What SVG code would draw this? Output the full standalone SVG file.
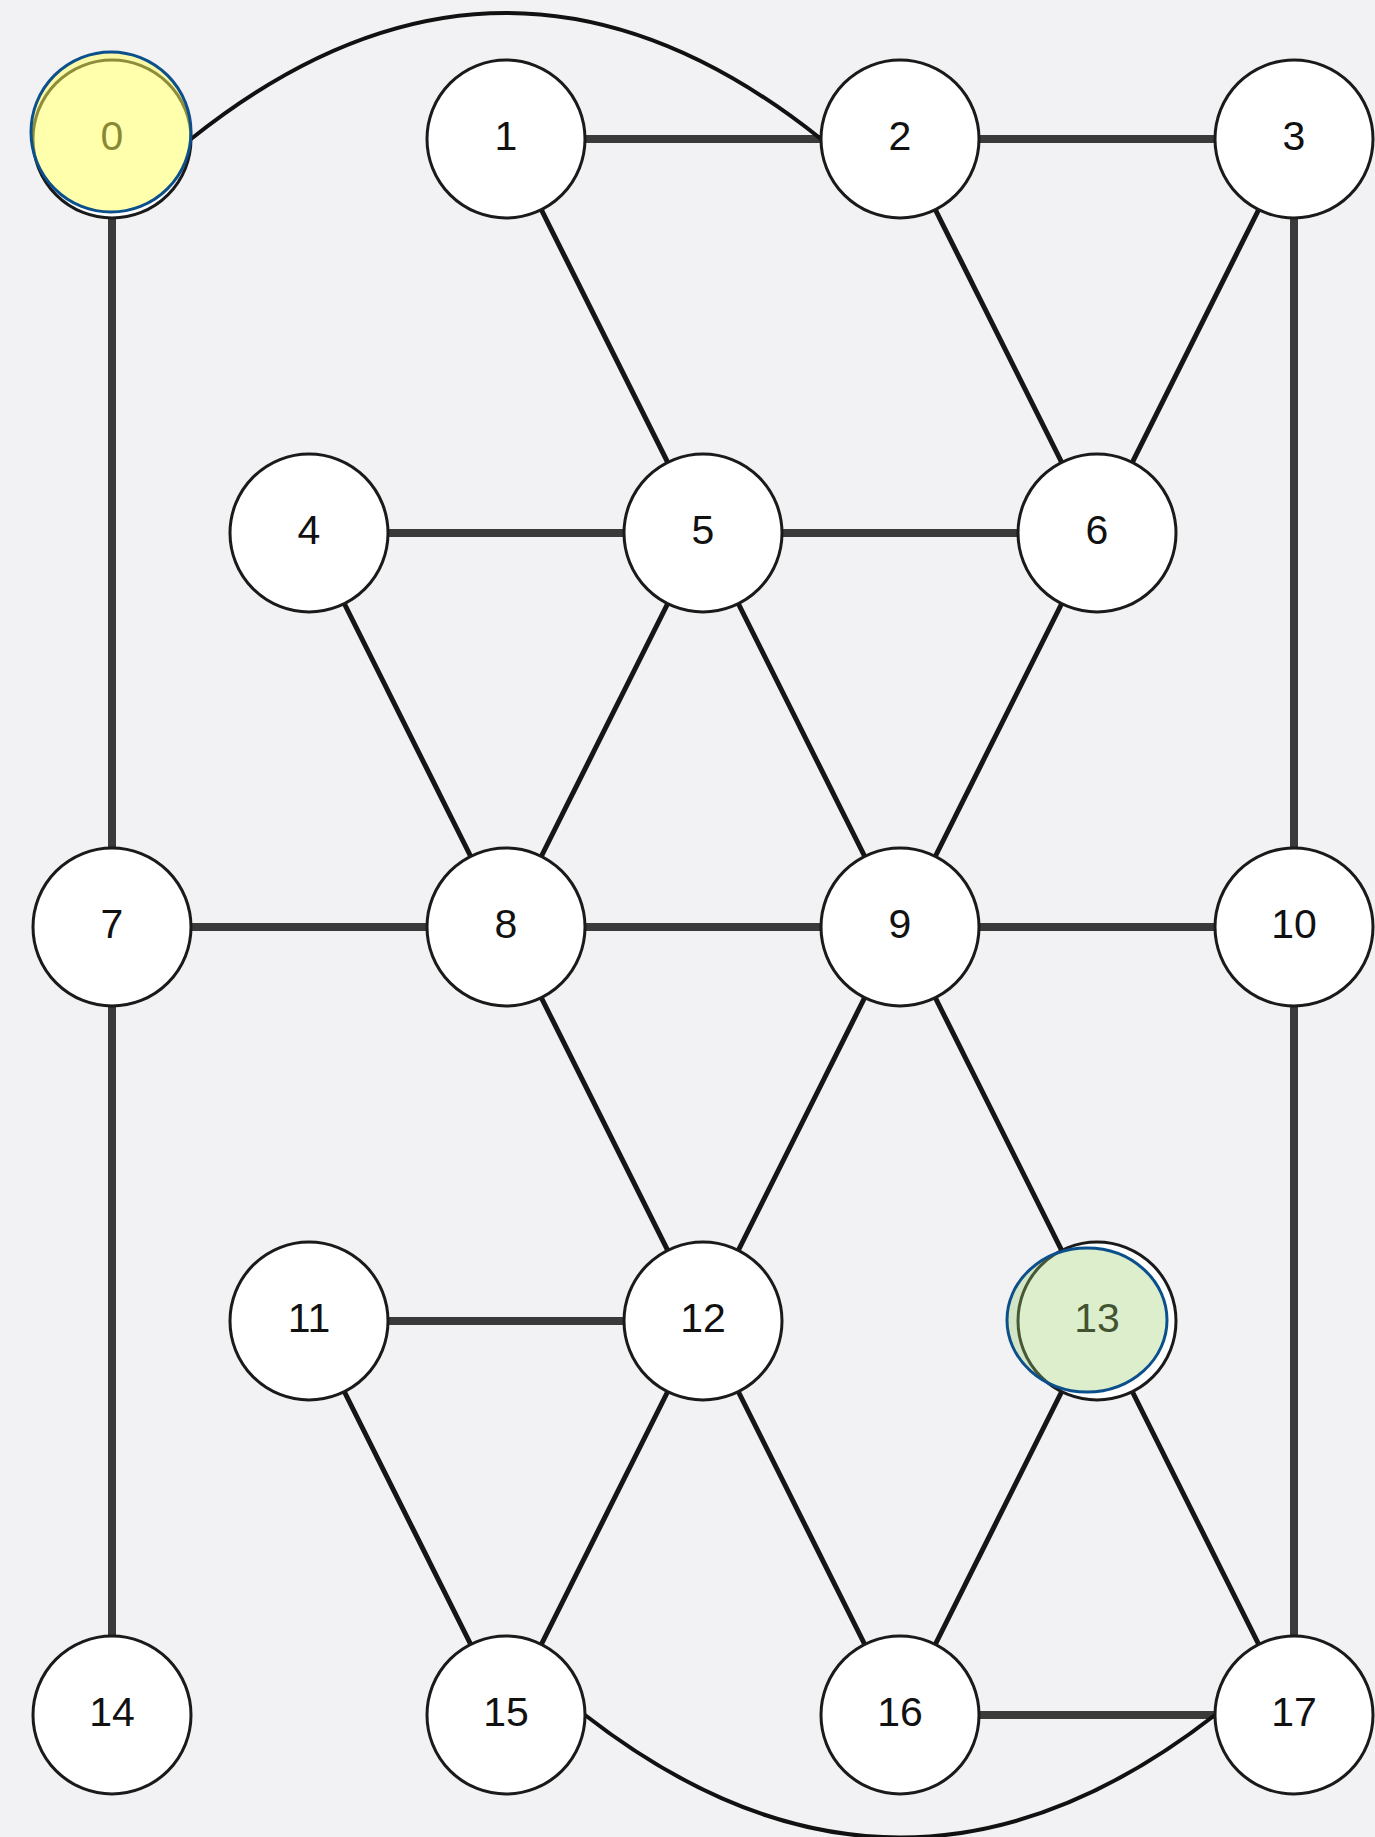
<svg xmlns="http://www.w3.org/2000/svg" width="1375" height="1837" viewBox="0 0 1375 1837">
  <style>
    .bg { fill: #f2f2f4; }
    .straight { stroke: #3a3a3a; stroke-width: 8; fill: none; }
    .diag { stroke: #151515; stroke-width: 5; fill: none; }
    .curve { stroke: #111; stroke-width: 4; fill: none; }
    .node circle { fill: #ffffff; stroke: #1a1a1a; stroke-width: 3; }
    .node text { font-family: "Liberation Sans", Arial, sans-serif; font-size: 41px; fill: #111; text-anchor: middle; }
    .mark { stroke: #0b4f8c; stroke-width: 3; }
  </style>
  <rect class="bg" x="0" y="0" width="1375" height="1837"/>

  <g id="connectors">
    <!-- horizontal and vertical edges -->
    <line class="straight" x1="112" y1="139" x2="112" y2="927"/>
    <line class="straight" x1="506" y1="139" x2="900" y2="139"/>
    <line class="straight" x1="900" y1="139" x2="1294" y2="139"/>
    <line class="straight" x1="1294" y1="139" x2="1294" y2="927"/>
    <line class="straight" x1="309" y1="533" x2="703" y2="533"/>
    <line class="straight" x1="703" y1="533" x2="1097" y2="533"/>
    <line class="straight" x1="112" y1="927" x2="506" y2="927"/>
    <line class="straight" x1="506" y1="927" x2="900" y2="927"/>
    <line class="straight" x1="900" y1="927" x2="1294" y2="927"/>
    <line class="straight" x1="112" y1="927" x2="112" y2="1715"/>
    <line class="straight" x1="1294" y1="927" x2="1294" y2="1715"/>
    <line class="straight" x1="309" y1="1321" x2="703" y2="1321"/>
    <line class="straight" x1="900" y1="1715" x2="1294" y2="1715"/>
    <!-- diagonal edges -->
    <line class="diag" x1="506" y1="139" x2="703" y2="533"/>
    <line class="diag" x1="900" y1="139" x2="1097" y2="533"/>
    <line class="diag" x1="1294" y1="139" x2="1097" y2="533"/>
    <line class="diag" x1="309" y1="533" x2="506" y2="927"/>
    <line class="diag" x1="703" y1="533" x2="506" y2="927"/>
    <line class="diag" x1="703" y1="533" x2="900" y2="927"/>
    <line class="diag" x1="1097" y1="533" x2="900" y2="927"/>
    <line class="diag" x1="506" y1="927" x2="703" y2="1321"/>
    <line class="diag" x1="900" y1="927" x2="703" y2="1321"/>
    <line class="diag" x1="900" y1="927" x2="1097" y2="1321"/>
    <line class="diag" x1="309" y1="1321" x2="506" y2="1715"/>
    <line class="diag" x1="703" y1="1321" x2="506" y2="1715"/>
    <line class="diag" x1="703" y1="1321" x2="900" y2="1715"/>
    <line class="diag" x1="1097" y1="1321" x2="900" y2="1715"/>
    <line class="diag" x1="1097" y1="1321" x2="1294" y2="1715"/>
    <!-- curved edges -->
    <path class="curve" d="M191,139 Q506,-113 821,139"/>
    <path class="curve" d="M585,1715 Q900,1960 1215,1715"/>
  </g>

  <g id="node-0" class="node"><circle cx="112" cy="139" r="79"/><text x="112" y="150">0</text></g>
  <g id="node-1" class="node"><circle cx="506" cy="139" r="79"/><text x="506" y="150">1</text></g>
  <g id="node-2" class="node"><circle cx="900" cy="139" r="79"/><text x="900" y="150">2</text></g>
  <g id="node-3" class="node"><circle cx="1294" cy="139" r="79"/><text x="1294" y="150">3</text></g>
  <g id="node-4" class="node"><circle cx="309" cy="533" r="79"/><text x="309" y="544">4</text></g>
  <g id="node-5" class="node"><circle cx="703" cy="533" r="79"/><text x="703" y="544">5</text></g>
  <g id="node-6" class="node"><circle cx="1097" cy="533" r="79"/><text x="1097" y="544">6</text></g>
  <g id="node-7" class="node"><circle cx="112" cy="927" r="79"/><text x="112" y="938">7</text></g>
  <g id="node-8" class="node"><circle cx="506" cy="927" r="79"/><text x="506" y="938">8</text></g>
  <g id="node-9" class="node"><circle cx="900" cy="927" r="79"/><text x="900" y="938">9</text></g>
  <g id="node-10" class="node"><circle cx="1294" cy="927" r="79"/><text x="1294" y="938">10</text></g>
  <g id="node-11" class="node"><circle cx="309" cy="1321" r="79"/><text x="309" y="1332">11</text></g>
  <g id="node-12" class="node"><circle cx="703" cy="1321" r="79"/><text x="703" y="1332">12</text></g>
  <g id="node-13" class="node"><circle cx="1097" cy="1321" r="79"/><text x="1097" y="1332">13</text></g>
  <g id="node-14" class="node"><circle cx="112" cy="1715" r="79"/><text x="112" y="1726">14</text></g>
  <g id="node-15" class="node"><circle cx="506" cy="1715" r="79"/><text x="506" y="1726">15</text></g>
  <g id="node-16" class="node"><circle cx="900" cy="1715" r="79"/><text x="900" y="1726">16</text></g>
  <g id="node-17" class="node"><circle cx="1294" cy="1715" r="79"/><text x="1294" y="1726">17</text></g>

  <!-- translucent highlight marks laid over nodes 0 and 13 -->
  <g id="highlights">
    <circle class="mark" cx="111" cy="132" r="80" fill="#ffff5a" fill-opacity="0.5"/>
    <ellipse class="mark" cx="1087" cy="1320" rx="80" ry="72" fill="#9bce6b" fill-opacity="0.35"/>
  </g>
</svg>
